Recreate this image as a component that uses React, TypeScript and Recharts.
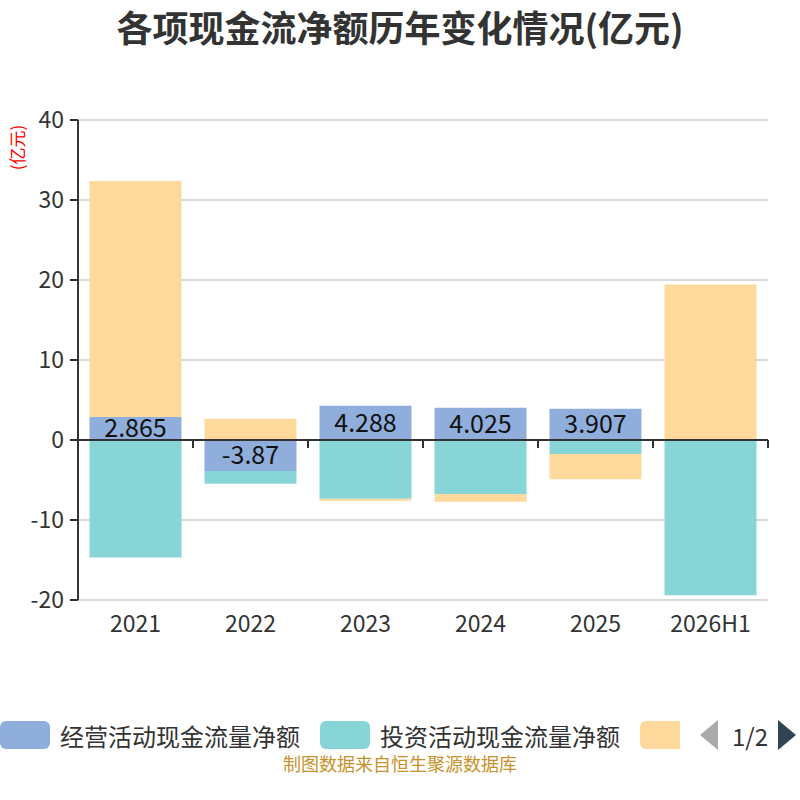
import React from "react";
import {
  Bar,
  BarChart,
  CartesianGrid,
  LabelList,
  ReferenceLine,
  XAxis,
  YAxis,
} from "recharts";

const YEARS = ["2021", "2022", "2023", "2024", "2025", "2026H1"];
const OPERATING = [2.865, -3.87, 4.288, 4.025, 3.907, 0.05];
const INVESTING = [-14.7, -1.59, -7.33, -6.75, -1.75, -19.4];
const FINANCING = [29.51, 2.66, -0.25, -0.96, -3.16, 19.38];
const Y_TICKS = [-20, -10, 0, 10, 20, 30, 40];

const NAMES = ["经营活动现金流量净额", "投资活动现金流量净额", "筹资活动现金流量净额"];
const COLORS = ["#8faedb", "#88d5d8", "#fed99b"];

const FONT = "'Noto Sans CJK SC', 'Noto Sans', sans-serif";

const data = YEARS.map((year, i) => ({
  year,
  operating: OPERATING[i],
  investing: INVESTING[i],
  financing: FINANCING[i],
}));

// zero axis line with category boundary ticks pointing down
function ZeroAxis(props: any) {
  const { x1, x2, y1 } = props;
  const step = (x2 - x1) / YEARS.length;
  const ticks = [];
  for (let i = 0; i <= YEARS.length; i++) {
    const x = x1 + step * i;
    ticks.push(<line key={i} x1={x} x2={x} y1={y1} y2={y1 + 8} stroke="#333" strokeWidth={2} />);
  }
  return (
    <g>
      <line x1={x1} x2={x2} y1={y1} y2={y1} stroke="#333" strokeWidth={2} />
      {ticks}
    </g>
  );
}

function Legend() {
  return (
    <div
      style={{
        position: "absolute",
        left: 0,
        top: 718,
        width: 800,
        height: 34,
        display: "flex",
        alignItems: "center",
        fontFamily: FONT,
        fontSize: 24,
        color: "#333",
        overflow: "hidden",
        whiteSpace: "nowrap",
      }}
    >
      <div style={{ width: 50, height: 28, borderRadius: 6, background: COLORS[0], marginRight: 10, flexShrink: 0 }} />
      <span style={{ width: 260, flexShrink: 0 }}>{NAMES[0]}</span>
      <div style={{ width: 50, height: 28, borderRadius: 6, background: COLORS[1], marginRight: 10, flexShrink: 0 }} />
      <span style={{ width: 260, flexShrink: 0 }}>{NAMES[1]}</span>
      <div
        style={{
          width: 40,
          height: 28,
          borderRadius: "6px 0 0 6px",
          background: COLORS[2],
          marginRight: 20,
          flexShrink: 0,
        }}
      />
      <svg width={18} height={30} style={{ marginRight: 14, flexShrink: 0 }}>
        <polygon points="18,0 0,15 18,30" fill="#aaa" />
      </svg>
      <span style={{ marginRight: 10 }}>1/2</span>
      <svg width={18} height={30} style={{ flexShrink: 0 }}>
        <polygon points="0,0 18,15 0,30" fill="#2f4554" />
      </svg>
    </div>
  );
}

export default function App() {
  return (
    <div style={{ position: "absolute", left: 0, top: 0, width: 800, height: 800, background: "#fff", fontFamily: FONT }}>
      <div
        style={{
          position: "absolute",
          top: 0,
          width: 800,
          textAlign: "center",
          fontSize: 36,
          lineHeight: "52px",
          fontWeight: "bold",
          color: "#333",
        }}
      >
        各项现金流净额历年变化情况(亿元)
      </div>
      <div
        style={{
          position: "absolute",
          left: 0,
          top: 122,
          width: 34,
          height: 50,
          color: "red",
          fontSize: 17,
          display: "flex",
          alignItems: "center",
          justifyContent: "center",
        }}
      >
        <span style={{ transform: "rotate(-90deg)", whiteSpace: "nowrap" }}>(亿元)</span>
      </div>
      <div style={{ position: "absolute", left: 0, top: 0 }}>
        <BarChart
          width={800}
          height={660}
          data={data}
          stackOffset="sign"
          barCategoryGap="10%"
          margin={{ top: 120, right: 32, bottom: 20, left: 18 }}
        >
          <CartesianGrid vertical={false} stroke="#ccc" strokeWidth={1.5} />
          <XAxis
            dataKey="year"
            axisLine={false}
            tickLine={false}
            height={40}
            tick={{ fill: "#333", fontSize: 23 }}
            tickMargin={10}
          />
          <YAxis
            domain={[-20, 40]}
            ticks={Y_TICKS}
            width={60}
            axisLine={{ stroke: "#333", strokeWidth: 2 }}
            tickLine={{ stroke: "#333", strokeWidth: 2 }}
            tickSize={8}
            tickMargin={6}
            tick={{ fill: "#333", fontSize: 23 }}
          />
          <Bar dataKey="operating" name={NAMES[0]} stackId="a" fill={COLORS[0]} isAnimationActive={false}>
            <LabelList
              dataKey="operating"
              position="center"
              fill="#111"
              fontSize={25}
              formatter={(v: any) => (Math.abs(v) < 0.5 ? "" : v)}
            />
          </Bar>
          <Bar dataKey="investing" name={NAMES[1]} stackId="a" fill={COLORS[1]} isAnimationActive={false} />
          <Bar dataKey="financing" name={NAMES[2]} stackId="a" fill={COLORS[2]} isAnimationActive={false} />
          <ReferenceLine y={0} shape={<ZeroAxis />} />
        </BarChart>
      </div>
      <Legend />
      <div
        style={{
          position: "absolute",
          top: 750,
          width: 800,
          textAlign: "center",
          fontSize: 18,
          color: "#c8922a",
        }}
      >
        制图数据来自恒生聚源数据库
      </div>
    </div>
  );
}
